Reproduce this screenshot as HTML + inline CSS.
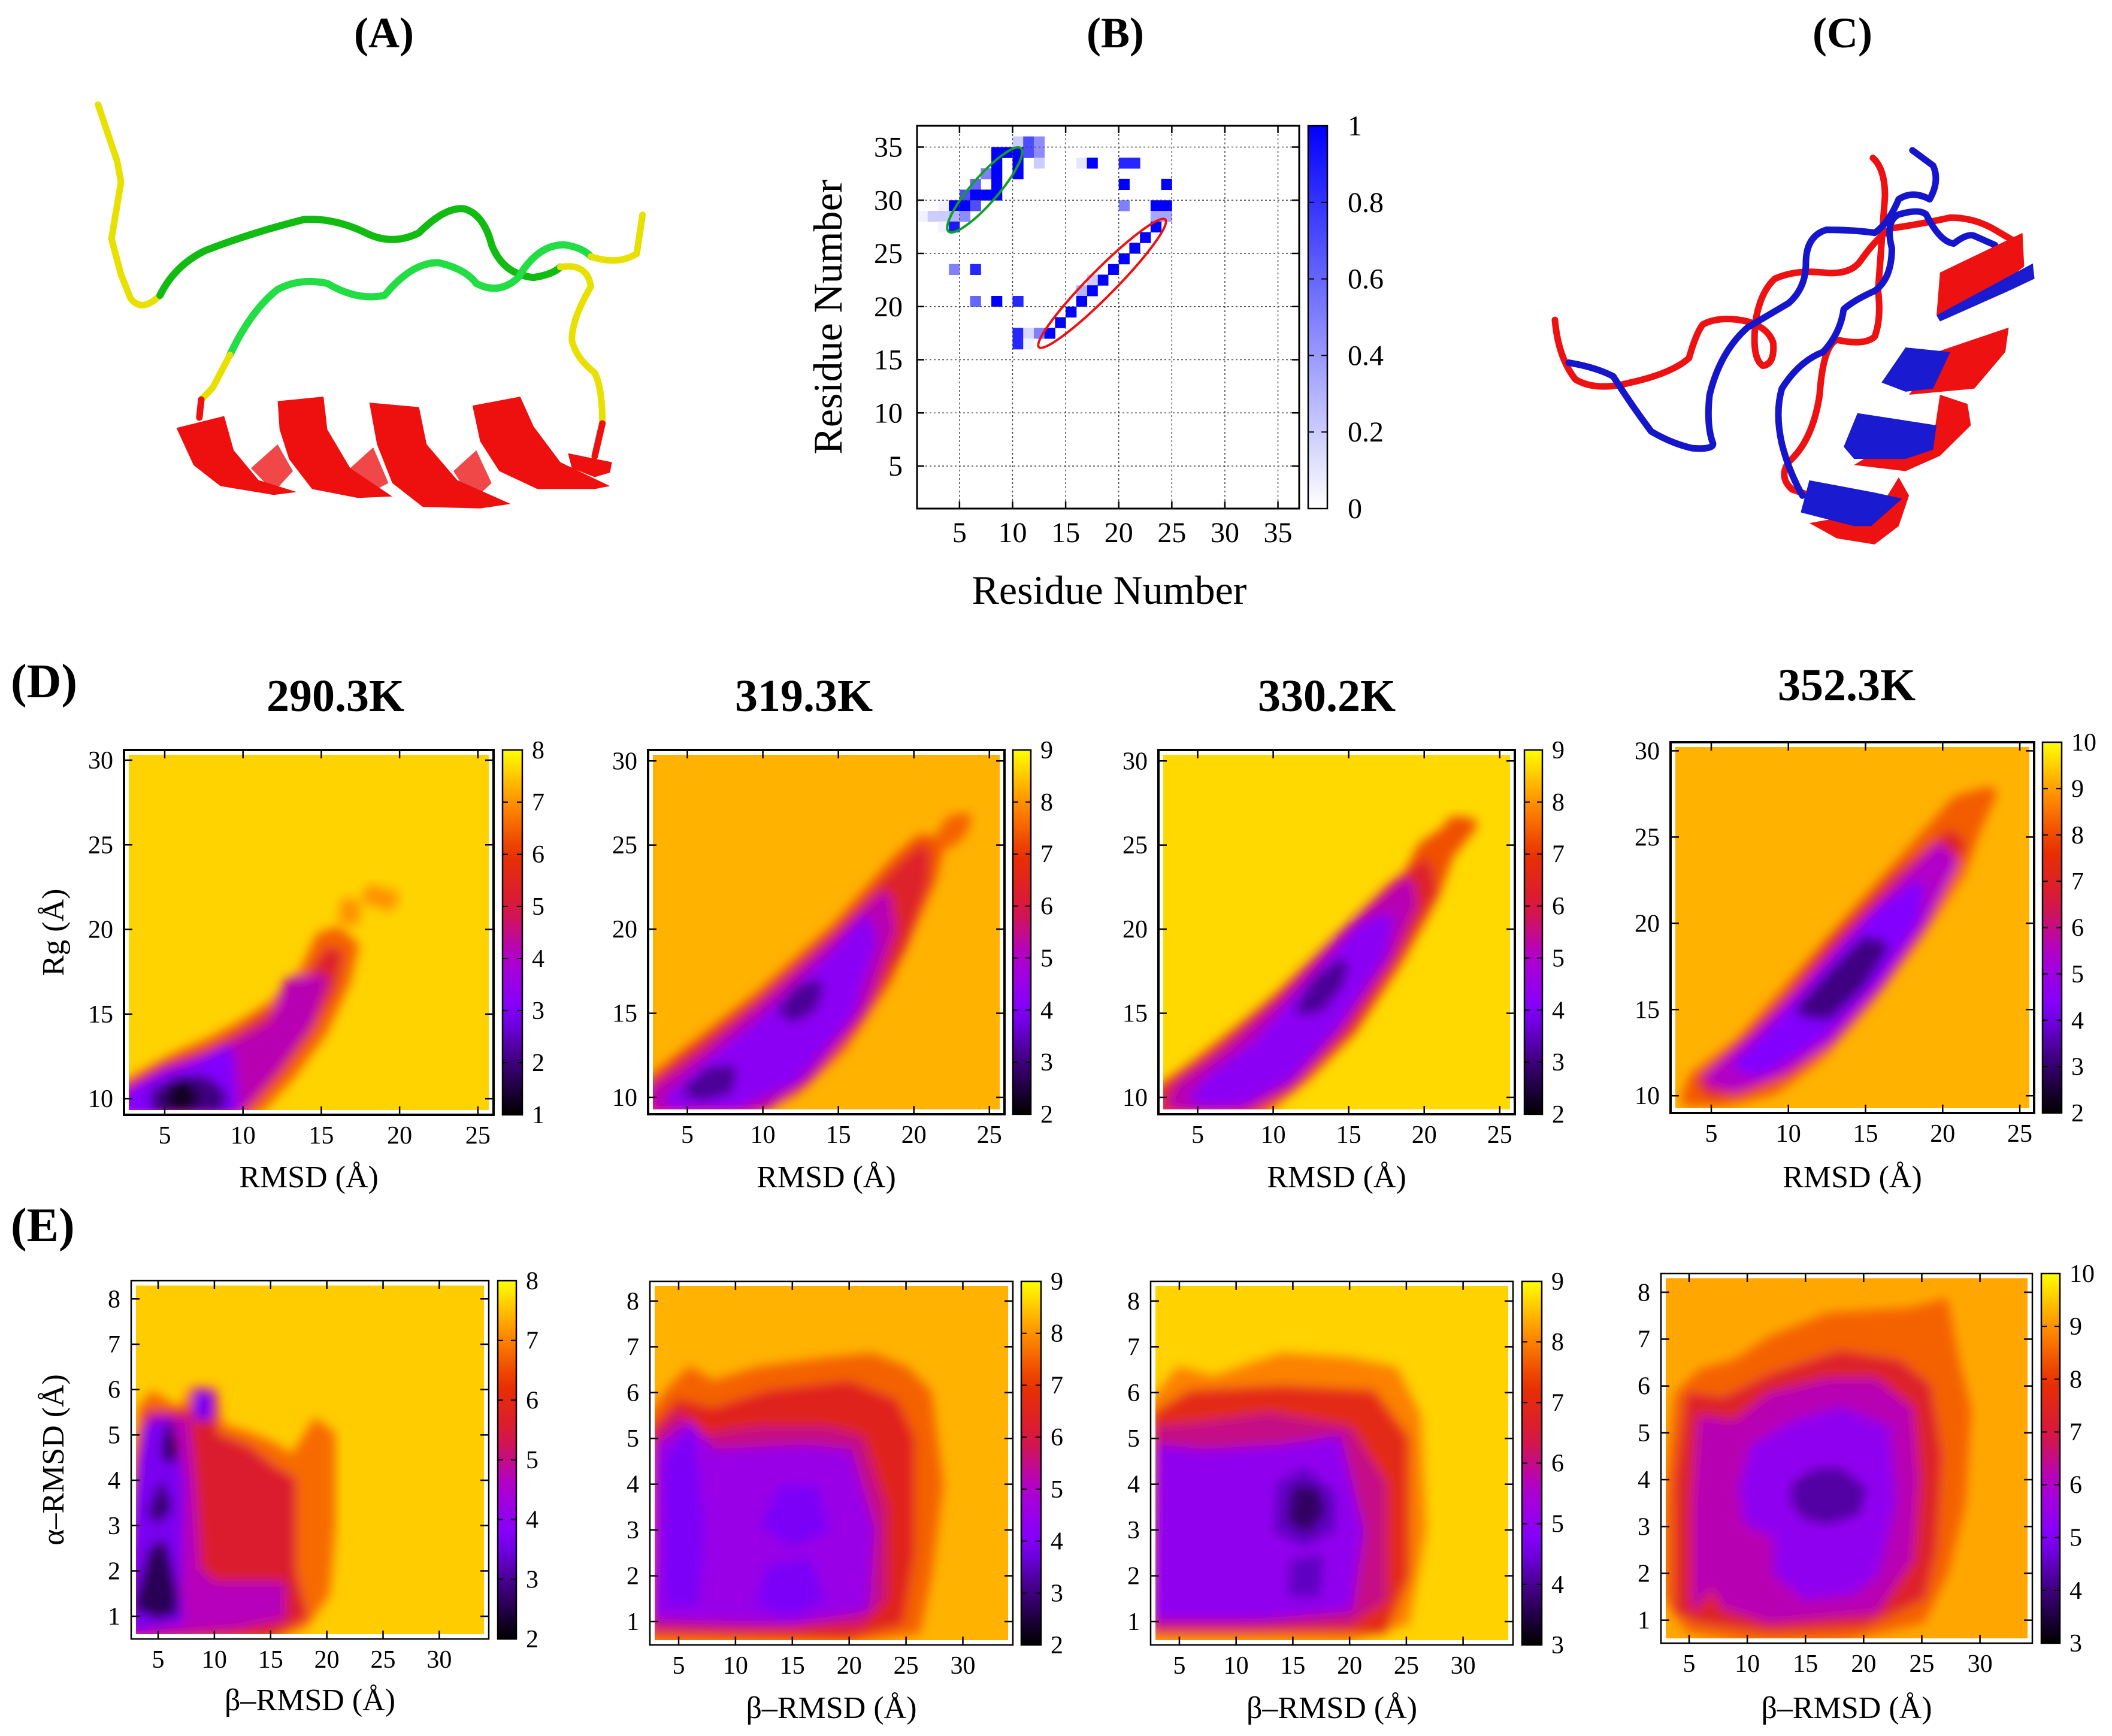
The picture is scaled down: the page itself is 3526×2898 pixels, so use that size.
<!DOCTYPE html>
<html><head><meta charset="utf-8"><style>
html,body{margin:0;padding:0;background:#fff}
svg{display:block}
text{font-family:"Liberation Serif",serif;fill:#000}
</style></head><body>
<svg id="fig" xmlns="http://www.w3.org/2000/svg" width="3526" height="2898" viewBox="0 0 3526 2898">
<defs>
<filter id="blur" x="-5%" y="-5%" width="110%" height="110%"><feGaussianBlur stdDeviation="9"/></filter>
</defs>
<rect width="3526" height="2898" fill="#fff"/>
<text x="641" y="79" font-size="72" font-weight="bold" text-anchor="middle">(A)</text>
<text x="1862" y="79" font-size="72" font-weight="bold" text-anchor="middle">(B)</text>
<text x="3076" y="79" font-size="72" font-weight="bold" text-anchor="middle">(C)</text>
<text x="18" y="1164" font-size="80" font-weight="bold">(D)</text>
<text x="18" y="2072" font-size="80" font-weight="bold">(E)</text>
<text x="560" y="1187" font-size="76" font-weight="bold" text-anchor="middle">290.3K</text>
<text x="1342" y="1187" font-size="76" font-weight="bold" text-anchor="middle">319.3K</text>
<text x="2215" y="1187" font-size="76" font-weight="bold" text-anchor="middle">330.2K</text>
<text x="3083" y="1169" font-size="76" font-weight="bold" text-anchor="middle">352.3K</text>

<g transform="translate(100,120) scale(0.6378,0.4974)">
 <g fill="none" stroke-linecap="round" stroke-linejoin="round">
  <path vector-effect="non-scaling-stroke" stroke="#e8e000" stroke-width="11" d="M100,110 L150,300 L160,370 L135,560 L160,680 L185,760 Q215,810 262,750"/>
  <path vector-effect="non-scaling-stroke" stroke="#11bb11" stroke-width="12" d="M262,750 Q300,650 380,600 Q500,540 640,495 Q720,490 800,540 Q870,585 940,540 Q1010,450 1060,460 Q1110,480 1130,580 Q1160,680 1240,690 Q1290,680 1310,655"/>
  <path vector-effect="non-scaling-stroke" stroke="#e8e000" stroke-width="11" d="M1310,655 Q1380,640 1390,720 Q1340,830 1340,900 Q1350,960 1400,1010 Q1420,1060 1420,1180"/>
  <path vector-effect="non-scaling-stroke" stroke="#ee1111" stroke-width="11" d="M1420,1180 L1400,1290"/>
  <path vector-effect="non-scaling-stroke" stroke="#22dd44" stroke-width="12" d="M445,950 Q500,800 570,730 Q630,690 700,710 Q780,770 850,750 Q920,640 990,640 Q1060,660 1090,710 Q1150,750 1200,690 Q1250,580 1320,580 Q1370,590 1390,620"/>
  <path vector-effect="non-scaling-stroke" stroke="#e8e000" stroke-width="11" d="M1390,620 Q1460,650 1510,610 L1525,480"/>
  <path vector-effect="non-scaling-stroke" stroke="#e8e000" stroke-width="11" d="M445,950 L400,1060 L370,1100"/>
  <path vector-effect="non-scaling-stroke" stroke="#ee1111" stroke-width="11" d="M370,1100 L365,1160"/>
 </g>
 <g fill="#f04848">
  <polygon points="500,1330 570,1250 610,1340 560,1410"/>
  <polygon points="760,1330 820,1260 860,1380 800,1420"/>
  <polygon points="1030,1340 1090,1270 1130,1380 1080,1440"/>
 </g>
 <g fill="#ee0f0f">
  <polygon points="305,1195 430,1155 455,1270 520,1370 620,1410 560,1420 420,1390 350,1320"/>
  <polygon points="570,1105 690,1090 700,1200 760,1330 870,1425 780,1430 660,1400 600,1300 575,1200"/>
  <polygon points="810,1110 940,1125 960,1250 1040,1370 1180,1450 1100,1465 950,1460 870,1380 830,1250"/>
  <polygon points="1080,1120 1205,1090 1240,1190 1310,1310 1440,1390 1400,1400 1250,1400 1150,1340 1100,1240"/>
  <polygon points="1330,1280 1445,1310 1440,1345 1400,1360 1340,1330"/>
 </g>
</g>

<g transform="translate(2550,200) scale(0.574,0.510)">
 <g fill="none" stroke-linecap="round" stroke-linejoin="round">
  <path vector-effect="non-scaling-stroke" stroke="#ee1111" stroke-width="11" d="M80,655 Q90,780 140,850 Q200,890 300,860 Q420,830 470,780 Q490,700 510,670 Q560,640 640,660 Q700,680 715,730 Q720,800 685,805 Q650,780 665,650 Q680,560 720,520 Q780,490 860,500 Q940,510 970,460 Q1020,380 1060,355 Q1150,340 1230,320 Q1300,320 1360,360 L1420,400"/>
  <path vector-effect="non-scaling-stroke" stroke="#ee1111" stroke-width="11" d="M1005,125 Q1040,160 1040,250 Q1030,400 1020,560 Q1030,650 1010,710 Q980,740 900,720 Q860,740 850,900 Q830,1050 760,1120 Q730,1170 770,1210 L810,1225"/>
  <path vector-effect="non-scaling-stroke" stroke="#1515cc" stroke-width="11" d="M120,795 Q200,810 250,840 Q300,930 360,1020 Q420,1060 480,1075 Q540,1080 540,1060 Q520,1000 530,900 Q560,760 640,680 Q700,640 760,600 Q810,550 810,470 Q810,380 870,360 Q950,360 1010,370 Q1050,340 1080,260 Q1120,230 1170,260 Q1200,200 1180,150 L1120,100"/>
  <path vector-effect="non-scaling-stroke" stroke="#1515cc" stroke-width="11" d="M800,1230 Q760,1150 740,1060 Q720,960 740,880 Q790,790 860,760 Q910,700 920,620 Q950,590 1010,560 Q1060,520 1060,420 Q1040,330 1080,310 Q1140,290 1160,310 Q1200,400 1240,405 Q1280,370 1300,380 L1360,410"/>
 </g>
 <polygon fill="#ee1111" points="1200,500 1440,370 1445,480 1400,520 1190,640"/>
 <polygon fill="#1a1ad0" points="1190,640 1470,470 1475,520 1400,560 1200,660"/>
 <polygon fill="#ee1111" points="1190,760 1400,680 1390,760 1300,880 1110,900 1160,820"/>
 <polygon fill="#1a1ad0" points="1030,860 1100,745 1230,760 1180,880 1100,890"/>
 <polygon fill="#ee1111" points="1200,900 1280,930 1290,1000 1200,1100 1100,1150 950,1130 1050,1060 1180,1050"/>
 <polygon fill="#1a1ad0" points="920,1070 960,960 1190,1000 1180,1080 1100,1110 950,1110"/>
 <polygon fill="#ee1111" points="1080,1170 1110,1230 1080,1330 1010,1390 900,1370 820,1320 1020,1280"/>
 <polygon fill="#1a1ad0" points="795,1285 820,1180 1010,1220 1090,1240 1000,1330 950,1330"/>
</g>

<g id="chartB"></g>
<g id="heat"></g>
</svg>
<script>
const bTicks = [5,10,15,20,25,30,35];
const bCbTicks = [0,0.2,0.4,0.6,0.8,1];
const bCellX = [8,9,10,11,12, 10,11,12, 8,10,12,16,17,20,21, 7,8,10, 6,8,20,24, 5,6,7,8, 3,4,5,6,20,23,24, 1,2,3,4,5,23,24, 3,4,23, 22,21,20, 4,6,19, 18,17, 17,16, 6,8,10,16, 15,14, 10,11,12,13, 10,11];
const bCellY = [34,34,34,34,34, 35,35,35, 33,33,33,33,33,33,33, 32,32,32, 31,31,31,31, 30,30,30,30, 29,29,29,29,29,29,29, 28,28,28,28,28,28,28, 27,27,27, 26,25,24, 23,23,23, 22,22, 21,21, 20,20,20,20, 19,18, 17,17,17,17, 16,16];
const bCellV = [1,1,1,0.7,0.45, 0.2,0.7,0.45, 1,1,0.2,0.1,1,0.85,0.85, 0.5,1,1, 0.6,1,1,1, 0.7,1,1,1, 0.05,1,1,0.7,0.5,1,1, 0.05,0.2,0.2,0.3,0.45,0.35,0.35, 0.05,0.9,1, 1,1,1, 0.5,0.85,1, 1,0.2, 1,0.3, 0.6,1,0.85,1, 1,1, 0.85,0.15,0.5,1, 0.85,0.05];

const d1Levels = [6.5, 5.3, 4.2, 3.0, 2.0, 1.3, 7.0, 7.0, 7.0];
const d1Shapes = [
 [[2.5,9.1],[2.5,10.7],[4,11.5],[6,12.5],[8,13.3],[10,14.3],[12,15.5],[14,17.5],[15,19.5],[16,19.8],[17,19],[16.5,17],[15,14],[13,11.5],[11,9.5],[10,9.1]],
 [[2.5,9.2],[2.5,10.5],[5,11.8],[8,12.8],[10,13.8],[12,15],[14,16.6],[15.5,18.6],[16,18.5],[15.5,16.5],[14,14],[12,11.5],[10,9.5],[9.5,9.2]],
 [[2.6,9.3],[2.6,10.2],[5,11.5],[8,12.3],[10,13.3],[12,14.3],[13,16.8],[15,17],[14,14.5],[12,12],[10,9.8],[9.5,9.3]],
 [[2.7,9.4],[2.8,10.2],[5,11.2],[7,11.9],[9,12.8],[9.3,9.6],[9,9.3]],
 [[4.5,9.5],[4.5,10.3],[6,11],[7.5,11],[8.5,10.3],[8.5,9.6],[6,9.4]],
 [[5.5,9.6],[5.5,10.6],[6.3,10.8],[6.8,10],[6.4,9.5]],
 [[16.5,20.6],[16.6,21.5],[17.1,21.4],[17.1,20.6]],
 [[18,21.8],[18.2,22.3],[18.6,22.2],[18.5,21.8]],
 [[19,21.5],[19,22],[19.5,22],[19.4,21.5]]
];
const d2Levels = [7.3, 6.3, 5.2, 4.2, 3.2, 3.2, 7.5];
const d2Shapes = [
 [[2.6,9.2],[2.6,10.8],[5,12.5],[10,16],[15,20],[19,24],[20.5,25.2],[21.5,25],[21,23],[18,17],[15,13],[12,10.5],[9,9.2]],
 [[2.7,9.3],[2.7,10.5],[5,12.2],[10,15.6],[15,19.6],[18.5,22.8],[20.5,24.5],[20.5,23],[19,19],[16,14.5],[12.5,11],[9,9.3]],
 [[3,9.5],[3,10.3],[6,12.2],[10,15.2],[15,19.2],[18,21.8],[18.3,20],[16.5,15.5],[13,11.5],[10,9.6]],
 [[4,9.8],[6,11.5],[10,14.3],[15,18.5],[16.8,20.3],[17,19],[15.5,15],[12,11.3],[8,9.7]],
 [[5.2,10.4],[6.5,11.4],[7.8,11.5],[7.6,10.6],[6,10.2]],
 [[11.5,15.2],[12.5,16.3],[13.5,16.6],[13.2,15.5],[12,14.9]],
 [[21.8,25.3],[22.5,26.3],[23.3,26.5],[23,25.8],[22.2,25.2]]
];
const d3Levels = [7.3, 6.3, 5.2, 4.2, 3.2];
const d3Shapes = [
 [[2.6,9.2],[2.6,10.3],[5,11.9],[8,14],[12,17],[16,20.3],[19,23],[20,24.8],[21.5,25.7],[22,26.3],[23,26.2],[21.5,24.5],[20.5,22],[18,18],[15,14],[12,11.3],[9,9.2]],
 [[2.7,9.4],[3,10.4],[6,12.3],[10,15.4],[14,18.9],[18,22.4],[20,23.7],[20.3,22.3],[18,18.5],[15,14.3],[11,10.8],[8,9.3]],
 [[3.5,9.7],[4,10.6],[7,12.5],[11,15.7],[15,19.7],[18.8,22.6],[19,21.5],[17.5,18.5],[14,14],[11,11],[8,9.6],[5,9.5]],
 [[5,10],[6,11],[9,13],[13,17],[16,20],[17.5,20.5],[17,18.5],[14,14.5],[11,11.5],[8,10],[6,9.9]],
 [[12,15.3],[13,16.8],[14.5,17.8],[14.2,16.8],[13,15.5]]
];
const d4Levels = [8.2, 7.0, 5.5, 4.3, 3.2];
const d4Shapes = [
 [[3.5,9.8],[4,11],[7,13],[10,16],[13,19],[16,22],[19,25],[21,27],[23,27.5],[22,25.5],[21,23],[18,19],[15,15.5],[12,12.5],[9,10.5],[6,9.8]],
 [[4.5,10.8],[7,12.8],[10,15.5],[13,18.8],[17,22.5],[20.5,25],[21,24.5],[19,21],[16,17],[13,13.8],[10,11.6],[7,10.5],[5,10.3]],
 [[5,11],[8,13.3],[11,16],[14,19],[17.5,22.2],[19.8,24.2],[20.5,23.5],[18.5,20],[15.5,16.3],[12.5,13.3],[9.5,11.6],[6.5,10.6]],
 [[7,11.8],[10,14.5],[13,17.5],[16,20.5],[18.3,22],[18,20.3],[15.5,17],[12,13.7],[9,12],[8,11.6]],
 [[11,15],[13,17],[15,18.8],[16,18.6],[14.5,16.5],[12.5,14.8]]
];
const e1Levels = [6.8, 5.6, 4.7, 3.6, 2.6, 2.6, 2.8, 3.6];
const e1Shapes = [
 [[2.6,0.5],[2.6,2.6],[3,4.5],[3.5,5.6],[4.5,5.9],[7,5.5],[8,6],[10,6],[10.5,5.2],[13,5],[15,4.8],[17,4.5],[19,5.3],[20.5,5],[20.5,3],[20,1.5],[18,0.8],[15,0.5]],
 [[2.6,0.5],[2.6,2.4],[3.2,4.5],[4,5.5],[6,5.5],[8,5.5],[8.5,6],[10,5.9],[10,5],[13,4.7],[15,4.3],[17,4],[17,2],[18,1],[15,0.6]],
 [[2.6,0.6],[2.7,2],[3.5,4.5],[4.5,5.4],[7.5,5.3],[8,4],[8.5,2],[10,1.7],[16,1.7],[16,1],[12,0.8],[8,0.7]],
 [[2.7,0.7],[3,3.5],[4,5.2],[6,5.3],[7,4],[6.8,1.5],[7,0.9],[4,0.8]],
 [[3,1.2],[4.5,2.5],[5.5,2.6],[6.5,1.5],[6.5,1.1],[5,1]],
 [[5.5,4.6],[6,5.2],[6.5,4.7],[6.2,4.4]],
 [[4.3,3.3],[5.3,3.9],[6,3.4],[5,3.1]],
 [[8.4,5.4],[8.4,5.9],[9.6,5.9],[9.6,5.4]]
];
const e2Levels = [7.5, 6.5, 5.5, 4.5, 3.9, 3.9, 3.9];
const e2Shapes = [
 [[2.6,0.6],[2.6,5.5],[4,6],[6,6.5],[8,6.2],[12,6.5],[18,6.7],[22,6.8],[25,6.5],[27,6],[28,4],[27,2],[26,0.8],[20,0.6]],
 [[2.7,0.8],[2.8,5.2],[5,5.8],[8,5.6],[13,6],[20,6.2],[24,5.8],[25.5,5],[25.5,2.5],[24.5,1],[20,0.7]],
 [[2.8,0.9],[3,5],[5,5.5],[7,5],[12,5.2],[18,5.2],[21,5],[23,3.5],[23,1.5],[21,1],[10,0.9]],
 [[3,1.1],[3.2,4.8],[6,5.3],[8,4.7],[16,4.8],[20,4.7],[22,3],[21.5,1.3],[15,1.0]],
 [[4,1.4],[4,4.5],[6,5.1],[7,3],[6.5,1.4]],
 [[12.5,3.1],[14,3.9],[17,3.9],[18,3],[15,2.7]],
 [[12,1.4],[13,2.2],[16.5,2.3],[17.5,1.5],[15,1.2]]
];
const e3Levels = [8.0, 7.0, 6.0, 5.0, 4.3, 4.3, 3.7];
const e3Shapes = [
 [[2.6,0.6],[2.6,5.8],[5,6.5],[8,6.3],[14,6.8],[20,6.7],[24,6.5],[26,5.5],[26.5,3],[25,1],[20,0.6]],
 [[2.7,0.8],[2.8,5.5],[6,6],[14,6.1],[22,6],[25,5],[25,2],[23,0.8]],
 [[2.8,0.9],[3,5.2],[7,5.3],[13,5.5],[20,5.2],[23,4],[23,1.5],[20,1],[10,0.9]],
 [[3,1.1],[3.3,4.8],[7,4.7],[14,4.8],[19,5],[21,3],[20,1.3],[12,1.1]],
 [[13.5,3],[13.8,4],[16,4.3],[18.5,3.8],[18.5,3],[16,2.7]],
 [[14.8,1.6],[15,2.3],[17.5,2.4],[17.2,1.6]],
 [[14.8,3.2],[15.2,3.9],[17,3.9],[17.6,3.4],[16.3,3.0]]
];
const e4Levels = [8.5, 7.3, 6.2, 5.3, 4.3];
const e4Shapes = [
 [[3,1.5],[3,3.5],[4,5.8],[6,6.3],[9,6.5],[12,7],[17,7.5],[24,7.6],[27,7.8],[28,6.5],[29,5.5],[28.5,3.5],[27,2],[25,1],[18,0.6],[10,0.6],[5,0.8]],
 [[4,1.2],[4,4],[5,5.8],[8,5.7],[12,6.2],[18,6.7],[23,6.5],[25.5,6],[26.5,4.5],[26,2.5],[25,1.5],[20,0.9],[12,0.8],[6,1]],
 [[5.5,1.3],[5.5,3.5],[6,5.3],[9,5.2],[12,5.8],[17,6.1],[21,6.1],[24,5.5],[24.5,4],[24,2.3],[21,1.2],[12,1],[8,1.3],[7,1.8]],
 [[9.5,3.8],[10.5,4.7],[14,5.2],[18,5.5],[22,5.1],[22.5,3.5],[21,2],[19,1.6],[15,1.5],[12.5,2],[12.5,2.8],[10,3.1]],
 [[14,3.5],[14,3.9],[16,4.2],[18,4.2],[20,3.8],[19.5,3.3],[17,3.1],[15,3.2]]
];
const bgLevels = [7.6, 8.3, 8.65, 9.2, 7.6, 8.3, 8.65, 9.2];
const dXTicks = [5,10,15,20,25];
const dYTicks = [10,15,20,25,30];
const eXTicks = [5,10,15,20,25,30];
const eYTicks = [1,2,3,4,5,6,7,8];

const NS = 'http://www.w3.org/2000/svg';
function mk(tag, attrs, parent){ const e=document.createElementNS(NS,tag); for(const k in attrs) e.setAttribute(k,attrs[k]); if(parent) parent.appendChild(e); return e; }

const stops=[[0,[0,0,0]],[0.14,[60,0,120]],[0.28,[128,0,255]],[0.43,[176,0,208]],[0.57,[216,24,60]],[0.71,[232,48,0]],[0.85,[255,140,0]],[1,[255,255,0]]];
function cmap(t){ t=Math.max(0,Math.min(1,t)); for(let i=1;i<stops.length;i++){ if(t<=stops[i][0]){ const a=stops[i-1],b=stops[i]; const f=(t-a[0])/(b[0]-a[0]); const c=a[1].map((v,j)=>Math.round(v+(b[1][j]-v)*f)); return 'rgb('+c.join(',')+')'; } } return 'rgb(255,255,0)'; }

(function(){
 const g=document.getElementById('chartB');
 const x0=1531,x1=2169,y0=210,y1=849, lo=1, hi=37;
 const sx=v=>x0+(v-lo)/(hi-lo)*(x1-x0);
 const sy=v=>y1-(v-lo)/(hi-lo)*(y1-y0);
 mk('rect',{x:x0,y:y0,width:x1-x0,height:y1-y0,fill:'#fff'},g);
 for(let i=0;i<bCellX.length;i++){
  const v=bCellV[i];
  const c='rgb('+Math.round(255*(1-v))+','+Math.round(255*(1-v))+',255)';
  const r=mk('rect',{x:sx(bCellX[i]),y:sy(bCellY[i]+1),width:sx(bCellX[i]+1)-sx(bCellX[i])+0.5,height:sy(bCellY[i])-sy(bCellY[i]+1)+0.5,fill:c},g);
  
  
 }
 bTicks.forEach(t=>{
  const gx=mk('line',{x1:sx(t),x2:sx(t),y1:y0,y2:y1,stroke:'#444','stroke-width':1.5,'stroke-dasharray':'3,4'},g);
  
  
  const gy=mk('line',{x1:x0,x2:x1,y1:sy(t),y2:sy(t),stroke:'#444','stroke-width':1.5,'stroke-dasharray':'3,4'},g);
  
  
  mk('line',{x1:sx(t),x2:sx(t),y1:y1,y2:y1-12,stroke:'#000','stroke-width':2.5},g);
  mk('line',{x1:sx(t),x2:sx(t),y1:y0,y2:y0+12,stroke:'#000','stroke-width':2.5},g);
  mk('line',{x1:x0,x2:x0+12,y1:sy(t),y2:sy(t),stroke:'#000','stroke-width':2.5},g);
  mk('line',{x1:x1,x2:x1-12,y1:sy(t),y2:sy(t),stroke:'#000','stroke-width':2.5},g);
  const tx=mk('text',{x:sx(t),y:905,'font-size':48,'text-anchor':'middle'},g); tx.textContent=t;
  
  
  const ty=mk('text',{x:1507,y:sy(t)+16,'font-size':48,'text-anchor':'end'},g); ty.textContent=t;
  
  
 });
 mk('rect',{x:x0,y:y0,width:x1-x0,height:y1-y0,fill:'none',stroke:'#000','stroke-width':3},g);
 const e1=mk('ellipse',{cx:1644,cy:317,rx:92,ry:22,fill:'none',stroke:'#11a022','stroke-width':4,transform:'rotate(-49 1644 317)'},g);
 
 
 const e2=mk('ellipse',{cx:1840,cy:473,rx:150,ry:22,fill:'none',stroke:'#ee1111','stroke-width':4,transform:'rotate(-45.3 1840 473)'},g);
 
 
 const gr=mk('linearGradient',{id:'gb',x1:0,y1:1,x2:0,y2:0},document.querySelector('defs'));
 mk('stop',{offset:0,'stop-color':'#fff'},gr); mk('stop',{offset:1,'stop-color':'#0000ff'},gr);
 const cb=mk('rect',{x:2184,y:y0,width:32,height:y1-y0,fill:'url(#gb)',stroke:'#000','stroke-width':2.5},g);
 
 
 bCbTicks.forEach(v=>{
  const yy=y1-v*(y1-y0);
  mk('line',{x1:2184,x2:2194,y1:yy,y2:yy,stroke:'#000','stroke-width':2},g);
  mk('line',{x1:2206,x2:2216,y1:yy,y2:yy,stroke:'#000','stroke-width':2},g);
  const t=mk('text',{x:2250,y:yy+16,'font-size':48},g); t.textContent=v;
  
  
 });
 const xl=mk('text',{x:1852,y:1008,'font-size':68,'text-anchor':'middle'},g); xl.textContent='Residue Number';
 
 
 const yl=mk('text',{x:0,y:0,'font-size':68,'text-anchor':'middle',transform:'translate(1405,529) rotate(-90)'},g); yl.textContent='Residue Number';
 
 
})();

const layout=[
 {id:'d1',x0:207,x1:824,y0:1252,y1:1861,xr:[2.4,26],yr:[9.05,30.6],cb:[839,872],cr:[1,8],xt:dXTicks,yt:dYTicks,xl:'RMSD (Å)',yl:'Rg (Å)',lv:d1Levels,sh:d1Shapes,xlb:1982,sw:20},
 {id:'d2',x0:1082,x1:1677,y0:1252,y1:1860,xr:[2.4,26],yr:[9.0,30.65],cb:[1691,1721],cr:[2,9],xt:dXTicks,yt:dYTicks,xl:'RMSD (Å)',lv:d2Levels,sh:d2Shapes,xlb:1982,sw:24},
 {id:'d3',x0:1934,x1:2529,y0:1252,y1:1860,xr:[2.4,26],yr:[9.0,30.65],cb:[2545,2575],cr:[2,9],xt:dXTicks,yt:dYTicks,xl:'RMSD (Å)',lv:d3Levels,sh:d3Shapes,xlb:1982,sw:24},
 {id:'d4',x0:2789,x1:3396,y0:1239,y1:1858,xr:[2.36,25.93],yr:[9.0,30.5],cb:[3410,3442],cr:[2,10],xt:dXTicks,yt:dYTicks,xl:'RMSD (Å)',lv:d4Levels,sh:d4Shapes,xlb:1982,sw:24},
 {id:'e1',x0:219,x1:816,y0:2138,y1:2736,xr:[2.6,34.4],yr:[0.5,8.4],cb:[831,862],cr:[2,8],xt:eXTicks,yt:eYTicks,xl:'β–RMSD (Å)',yl:'α–RMSD (Å)',lv:e1Levels,sh:e1Shapes,xlb:2855,sw:10},
 {id:'e2',x0:1085,x1:1691,y0:2139,y1:2746,xr:[2.47,34.4],yr:[0.49,8.43],cb:[1705,1738],cr:[2,9],xt:eXTicks,yt:eYTicks,xl:'β–RMSD (Å)',lv:e2Levels,sh:e2Shapes,xlb:2868,sw:10},
 {id:'e3',x0:1921,x1:2526,y0:2139,y1:2746,xr:[2.47,34.4],yr:[0.49,8.43],cb:[2541,2574],cr:[3,9],xt:eXTicks,yt:eYTicks,xl:'β–RMSD (Å)',lv:e3Levels,sh:e3Shapes,xlb:2868,sw:10},
 {id:'e4',x0:2773,x1:3393,y0:2126,y1:2743,xr:[2.58,34.5],yr:[0.51,8.4],cb:[3408,3439],cr:[3,10],xt:eXTicks,yt:eYTicks,xl:'β–RMSD (Å)',lv:e4Levels,sh:e4Shapes,xlb:2868,sw:10}
];
const root=document.getElementById('heat');
const defs=document.querySelector('defs');
layout.forEach((p,pi)=>{
 const g=mk('g',{},root);
 
 
 const sx=v=>p.x0+(v-p.xr[0])/(p.xr[1]-p.xr[0])*(p.x1-p.x0);
 const sy=v=>p.y1-(v-p.yr[0])/(p.yr[1]-p.yr[0])*(p.y1-p.y0);
 const col=v=>cmap((v-p.cr[0])/(p.cr[1]-p.cr[0]));
 const cp=mk('clipPath',{id:'clip-'+p.id},defs);
 mk('rect',{x:p.x0+8,y:p.y0+8,width:p.x1-p.x0-16,height:p.y1-p.y0-16},cp);
 const inner=mk('g',{'clip-path':'url(#clip-'+p.id+')'},g);
 mk('rect',{x:p.x0,y:p.y0,width:p.x1-p.x0,height:p.y1-p.y0,fill:col(bgLevels[pi])},inner);
 const bl=mk('g',{filter:'url(#blur)'},inner);
 p.sh.forEach((poly,i)=>{
  const c=col(p.lv[i]);
  const pg=mk('polygon',{points:poly.map(q=>sx(q[0]).toFixed(1)+','+sy(q[1]).toFixed(1)).join(' '),fill:c,stroke:c,'stroke-width':p.sw,'stroke-linejoin':'round'},bl);
  
  
 });
 mk('rect',{x:p.x0,y:p.y0,width:p.x1-p.x0,height:p.y1-p.y0,fill:'none',stroke:'#000','stroke-width':p.id[0]==='d'?4:2.5},g);
 p.xt.forEach(t=>{
  const X=sx(t);
  mk('line',{x1:X,x2:X,y1:p.y1,y2:p.y1-14,stroke:'#000','stroke-width':2.5},g);
  mk('line',{x1:X,x2:X,y1:p.y0,y2:p.y0+14,stroke:'#000','stroke-width':2.5},g);
  const tx=mk('text',{x:X,y:p.y1+48,'font-size':42,'text-anchor':'middle'},g); tx.textContent=t;
  
  
 });
 p.yt.forEach(t=>{
  const Y=sy(t);
  mk('line',{x1:p.x0,x2:p.x0+14,y1:Y,y2:Y,stroke:'#000','stroke-width':2.5},g);
  mk('line',{x1:p.x1,x2:p.x1-14,y1:Y,y2:Y,stroke:'#000','stroke-width':2.5},g);
  const ty=mk('text',{x:p.x0-18,y:Y+14,'font-size':42,'text-anchor':'end'},g); ty.textContent=t;
  
  
 });
 const gr=mk('linearGradient',{id:'cg-'+p.id,x1:0,y1:1,x2:0,y2:0},defs);
 for(let k=0;k<=20;k++){ mk('stop',{offset:k/20,'stop-color':cmap(k/20)},gr); }
 const cb=mk('rect',{x:p.cb[0],y:p.y0,width:p.cb[1]-p.cb[0],height:p.y1-p.y0,fill:'url(#cg-'+p.id+')',stroke:'#000','stroke-width':2.5},g);
 
 
 for(let v=p.cr[0];v<=p.cr[1];v++){
  const Y=p.y1-(v-p.cr[0])/(p.cr[1]-p.cr[0])*(p.y1-p.y0);
  mk('line',{x1:p.cb[0],x2:p.cb[0]+9,y1:Y,y2:Y,stroke:'#000','stroke-width':2},g);
  mk('line',{x1:p.cb[1]-9,x2:p.cb[1],y1:Y,y2:Y,stroke:'#000','stroke-width':2},g);
  const t=mk('text',{x:p.cb[1]+16,y:Y+14,'font-size':42},g); t.textContent=v;
  
  
 }
 const xl=mk('text',{x:(p.x0+p.x1)/2,y:p.xlb,'font-size':52,'text-anchor':'middle'},g); xl.textContent=p.xl;
 
 
 if(p.yl){
  const yl=mk('text',{x:0,y:0,'font-size':52,'text-anchor':'middle',transform:'translate(106,'+((p.y0+p.y1)/2)+') rotate(-90)'},g); yl.textContent=p.yl;
  
  
 }
});
</script>
</body></html>
